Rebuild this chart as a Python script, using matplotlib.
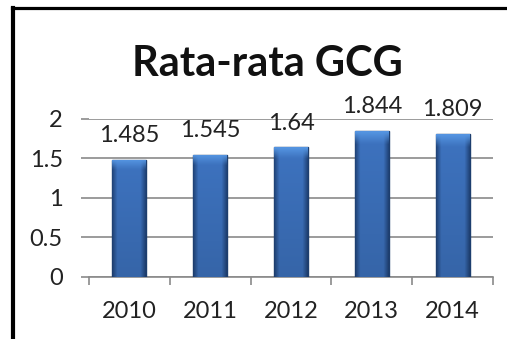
import numpy as np
import matplotlib.pyplot as plt
from matplotlib.lines import Line2D
from matplotlib.ticker import FixedLocator

# data
years = ['2010', '2011', '2012', '2013', '2014']
gcg = [1.485, 1.545, 1.64, 1.844, 1.809]
yticks = [0, 0.5, 1, 1.5, 2]
ytick_labels = ['0', '0.5', '1', '1.5', '2']
title = 'Rata-rata GCG'

plt.rcParams['font.family'] = ['Lato', 'DejaVu Sans']

fig = plt.figure(figsize=(5.07, 3.39), dpi=100)
ax = fig.add_axes([0.1755, 0.1829, 0.797, 0.4661])

x = list(range(len(years)))
bars = ax.bar(x, gcg, width=0.42, color='#3b70b9', edgecolor='#1d3e6e',
              linewidth=1.0, zorder=3)

# shading inside each bar: darker sides, a bit lighter near the top
dark = np.array([0.13, 0.27, 0.48])
mid = np.array([0.24, 0.45, 0.75])
light = np.array([0.33, 0.58, 0.88])
cols = np.linspace(-1, 1, 40)
side = np.clip((np.abs(cols) - 0.7) / 0.3, 0, 1)[None, :, None]
rows = np.linspace(0, 1, 60)[:, None, None]  # 0 = top
top = np.clip(1 - rows / 0.08, 0, 1)
grad = mid * (1 - side) + dark * side
grad = grad * (1 - top) + light * top
grad = grad * (1 - 0.12 * rows)
for b in bars:
    im = ax.imshow(grad, extent=[b.get_x(), b.get_x() + b.get_width(), 0, b.get_height()],
                   aspect='auto', zorder=3.5, interpolation='bilinear')
    im.set_clip_path(b)

ax.bar_label(bars, labels=[str(v) for v in gcg], padding=10, fontsize=17,
             color='#222222')

ax.set_xlim(-0.5, len(years) - 0.5)
ax.set_ylim(0, 2)
ax.set_yticks(yticks)
ax.set_yticklabels(ytick_labels)
ax.set_xticks(x)
ax.set_xticklabels(years)
ax.xaxis.set_minor_locator(FixedLocator([i - 0.5 for i in range(len(years) + 1)]))

ax.grid(axis='y', color='#8a8a8a', linewidth=1.2, zorder=0)
for s in ['top', 'right', 'left']:
    ax.spines[s].set_visible(False)
ax.spines['bottom'].set_color('#8a8a8a')
ax.spines['bottom'].set_linewidth(1.2)

ax.tick_params(axis='y', length=5.8, width=1.2, color='#8a8a8a', pad=13,
               labelsize=17, labelcolor='#222222')
ax.tick_params(axis='x', which='major', length=0, pad=17, labelsize=17,
               labelcolor='#222222')
ax.tick_params(axis='x', which='minor', length=5.8, width=1.2, color='#8a8a8a')

fig.text(0.528, 0.811, title, ha='center', va='center', fontsize=30,
         fontweight='bold', color='#111111')

# black frame on left and top
fig.add_artist(Line2D([0.0256, 0.0256], [0.0, 0.975], color='black', linewidth=3))
fig.add_artist(Line2D([0.0227, 1.0], [0.975, 0.975], color='black', linewidth=2.3))

fig.savefig('out.png', dpi=100)
